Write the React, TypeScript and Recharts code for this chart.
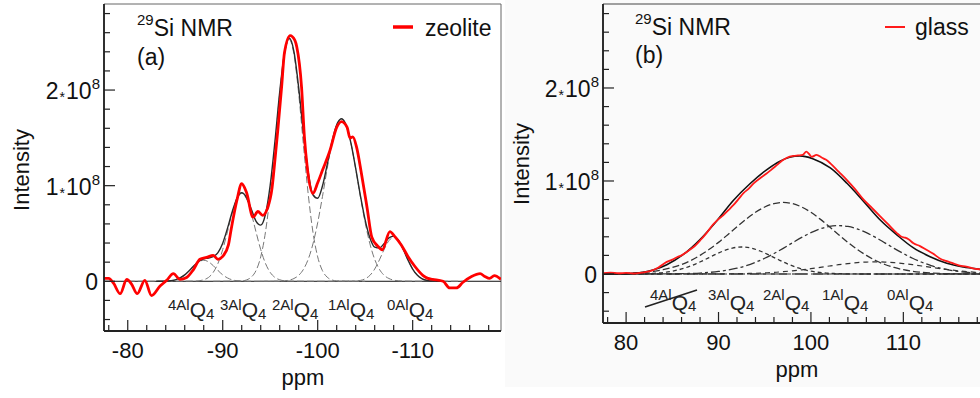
import React from "react";
import { LineChart, Line, XAxis, YAxis, ReferenceLine, ReferenceArea } from "recharts";

type Pt = [number, number];

const FONT = '"Liberation Sans", Arial, Helvetica, sans-serif';

// ---- panel (a): zeolite, ppm (negative), intensity in units of 1e8 ----
const zeoliteSpectrum: Pt[] = [
  [-77.5, 0.03], [-78.0, 0.03], [-78.5, -0.02], [-79.2, -0.13], [-79.9, 0.02], [-80.4, -0.03],
  [-81.0, -0.13], [-81.8, 0.01], [-82.5, -0.15], [-83.4, -0.05], [-84.1, 0.01], [-84.8, 0.08],
  [-85.5, 0.02], [-86.2, 0.04], [-86.9, 0.12], [-87.6, 0.23], [-88.3, 0.25], [-89.0, 0.27],
  [-89.5, 0.23], [-90.0, 0.26], [-90.6, 0.38], [-90.9, 0.55], [-91.5, 0.85], [-92.0, 1.02],
  [-92.5, 0.93], [-93.2, 0.67], [-93.7, 0.73], [-94.2, 0.69], [-94.7, 0.76], [-95.2, 0.98],
  [-95.5, 1.27], [-95.8, 1.58], [-96.2, 2.03], [-96.5, 2.39], [-97.1, 2.57], [-97.6, 2.52],
  [-97.8, 2.45], [-98.3, 2.03], [-98.6, 1.51], [-98.9, 1.19], [-99.5, 0.92], [-100.0, 1.03],
  [-100.5, 1.16], [-101.3, 1.37], [-102.0, 1.61], [-102.5, 1.67], [-103.1, 1.61], [-103.4, 1.5],
  [-103.7, 1.51], [-104.1, 1.4], [-104.6, 1.13], [-105.2, 0.77], [-105.7, 0.46], [-106.3, 0.37],
  [-106.8, 0.33], [-107.6, 0.52], [-108.1, 0.47], [-108.8, 0.38], [-109.5, 0.26], [-110.2, 0.16],
  [-111.1, 0.06], [-111.6, 0.03], [-112.1, 0.02], [-113.2, 0.0], [-113.9, -0.07], [-114.6, -0.07],
  [-115.3, -0.01], [-116.2, 0.05], [-117.1, 0.08], [-117.6, 0.05], [-118.1, 0.03], [-118.6, 0.06],
  [-119.3, 0.02],
];

const zeoliteFit: Pt[] = [
  [-83, 0], [-83.5, 0], [-84, 0.002], [-84.5, 0.006], [-85, 0.015], [-85.5, 0.035], [-86, 0.067],
  [-86.5, 0.113], [-87, 0.166], [-87.5, 0.209], [-88, 0.236], [-88.5, 0.244], [-89, 0.257],
  [-89.5, 0.3], [-90, 0.399], [-90.5, 0.553], [-91, 0.728], [-91.5, 0.869], [-92, 0.926],
  [-92.5, 0.877], [-93, 0.756], [-93.5, 0.629], [-94, 0.587], [-94.5, 0.701], [-95, 1.006],
  [-95.5, 1.464], [-96, 1.979], [-96.5, 2.383], [-97, 2.544], [-97.5, 2.402], [-98, 2.023],
  [-98.5, 1.549], [-99, 1.143], [-99.5, 0.905], [-100, 0.868], [-100.5, 0.996], [-101, 1.221],
  [-101.5, 1.458], [-102, 1.636], [-102.5, 1.7], [-103, 1.632], [-103.5, 1.445], [-104, 1.181],
  [-104.5, 0.894], [-105, 0.639], [-105.5, 0.453], [-106, 0.358], [-106.5, 0.349], [-107, 0.396],
  [-107.5, 0.454], [-108, 0.472], [-108.5, 0.43], [-109, 0.336], [-109.5, 0.224], [-110, 0.128],
  [-110.5, 0.062], [-111, 0.026], [-111.5, 0.009], [-112, 0.003], [-112.5, 0.001], [-113, 0],
];

const zeo4Al: Pt[] = [
  [-80, 0], [-83.5, 0], [-84, 0.002], [-84.5, 0.006], [-85, 0.015], [-85.5, 0.035], [-86, 0.067],
  [-86.5, 0.113], [-87, 0.164], [-87.5, 0.204], [-88, 0.22], [-88.5, 0.204], [-89, 0.164],
  [-89.5, 0.113], [-90, 0.067], [-90.5, 0.035], [-91, 0.015], [-91.5, 0.006], [-92, 0.002],
  [-92.5, 0], [-96, 0],
];
const zeo3Al: Pt[] = [
  [-84, 0], [-87, 0.002], [-87.5, 0.005], [-88, 0.016], [-88.5, 0.04], [-89, 0.093], [-89.5, 0.187],
  [-90, 0.332], [-90.5, 0.518], [-91, 0.713], [-91.5, 0.863], [-92, 0.92], [-92.5, 0.863],
  [-93, 0.713], [-93.5, 0.518], [-94, 0.332], [-94.5, 0.187], [-95, 0.093], [-95.5, 0.04],
  [-96, 0.016], [-96.5, 0.005], [-97, 0.002], [-100, 0],
];
const zeo2Al: Pt[] = [
  [-89, 0], [-92, 0.004], [-92.5, 0.014], [-93, 0.043], [-93.5, 0.111], [-94, 0.255], [-94.5, 0.514],
  [-95, 0.913], [-95.5, 1.424], [-96, 1.961], [-96.5, 2.373], [-97, 2.53], [-97.5, 2.373],
  [-98, 1.961], [-98.5, 1.424], [-99, 0.913], [-99.5, 0.514], [-100, 0.255], [-100.5, 0.111],
  [-101, 0.043], [-101.5, 0.014], [-102, 0.004], [-105, 0],
];
const zeo1Al: Pt[] = [
  [-94, 0], [-96, 0.002], [-96.5, 0.005], [-97, 0.012], [-97.5, 0.029], [-98, 0.062], [-98.5, 0.125],
  [-99, 0.23], [-99.5, 0.391], [-100, 0.613], [-100.5, 0.885], [-101, 1.178], [-101.5, 1.444],
  [-102, 1.632], [-102.5, 1.7], [-103, 1.632], [-103.5, 1.444], [-104, 1.178], [-104.5, 0.885],
  [-105, 0.613], [-105.5, 0.391], [-106, 0.23], [-106.5, 0.125], [-107, 0.062], [-107.5, 0.029],
  [-108, 0.012], [-108.5, 0.005], [-109, 0.002], [-111, 0],
];
const zeo0Al: Pt[] = [
  [-100, 0], [-103.5, 0.001], [-104, 0.003], [-104.5, 0.009], [-105, 0.026], [-105.5, 0.062],
  [-106, 0.128], [-106.5, 0.224], [-107, 0.334], [-107.5, 0.425], [-108, 0.46], [-108.5, 0.425],
  [-109, 0.334], [-109.5, 0.224], [-110, 0.128], [-110.5, 0.062], [-111, 0.026], [-111.5, 0.009],
  [-112, 0.003], [-112.5, 0.001], [-116, 0],
];

// ---- panel (b): glass, ppm (positive) ----
const glassSpectrum: Pt[] = [
  [77.5, 0.01], [78.3, 0.015], [79.2, 0.008], [80.0, 0.012], [80.8, 0.005], [81.7, 0.015],
  [82.6, 0.03], [83.5, 0.07], [84.4, 0.13], [85.0, 0.155], [85.5, 0.18], [86.0, 0.2], [86.6, 0.24],
  [87.3, 0.29], [88.0, 0.36], [88.7, 0.44], [89.4, 0.53], [90.0, 0.59], [90.5, 0.63], [91.1, 0.69],
  [91.6, 0.74], [92.2, 0.81], [92.7, 0.87], [93.3, 0.92], [93.8, 0.975], [94.5, 1.03], [95.2, 1.08],
  [95.7, 1.12], [96.3, 1.17], [96.9, 1.22], [97.4, 1.25], [98.1, 1.27], [98.6, 1.275], [99.1, 1.28],
  [99.5, 1.315], [99.8, 1.29], [100.1, 1.26], [100.6, 1.28], [101.2, 1.25], [101.6, 1.23],
  [102.1, 1.19], [103.0, 1.1], [103.9, 1.01], [104.8, 0.91], [105.7, 0.8], [106.6, 0.71],
  [107.5, 0.62], [108.4, 0.53], [109.3, 0.44], [109.8, 0.4], [110.2, 0.39], [110.6, 0.37],
  [111.1, 0.33], [111.8, 0.3], [112.5, 0.26], [113.2, 0.22], [113.9, 0.17], [114.6, 0.14],
  [115.4, 0.115], [116.1, 0.09], [116.8, 0.08], [117.5, 0.06], [118.3, 0.05], [119.2, 0.045],
  [120.1, 0.035], [121, 0.03],
];

const glassFit: Pt[] = [
  [77.5, 0], [79, 0.002], [80.5, 0.006], [82, 0.02], [83, 0.045], [84.4, 0.1], [86.2, 0.21],
  [88, 0.37], [89.8, 0.57], [91.6, 0.79], [93.4, 0.97], [95.2, 1.12], [96.6, 1.21], [97.7, 1.255],
  [98.8, 1.27], [100.2, 1.24], [102.1, 1.14], [103.9, 0.975], [105.7, 0.78], [107.5, 0.58],
  [109.3, 0.42], [111.1, 0.28], [112.9, 0.186], [114.7, 0.115], [116.5, 0.075], [118.3, 0.05],
  [120, 0.03], [121, 0.025],
];

const glass4Al: Pt[] = [[77.5, 0], [121, 0]];
const glass3Al: Pt[] = [
  [77.5, 0], [79.5, 0], [80.5, 0.001], [81.5, 0.002], [82.5, 0.005], [83.5, 0.011], [84.5, 0.022],
  [85.5, 0.041], [86.5, 0.069], [87.5, 0.107], [88.5, 0.153], [89.5, 0.202], [90.5, 0.247],
  [91.5, 0.279], [92.5, 0.29], [93.5, 0.279], [94.5, 0.247], [95.5, 0.202], [96.5, 0.153],
  [97.5, 0.107], [98.5, 0.069], [99.5, 0.041], [100.5, 0.022], [101.5, 0.011], [102.5, 0.005],
  [103.5, 0.002], [104.5, 0.001], [105.5, 0], [121, 0],
];
const glass2Al: Pt[] = [
  [77.5, 0.001], [78, 0.002], [79, 0.003], [80, 0.006], [81, 0.011], [82, 0.018], [83, 0.029],
  [84, 0.046], [85, 0.07], [86, 0.102], [87, 0.145], [88, 0.2], [89, 0.265], [90, 0.34], [91, 0.423],
  [92, 0.508], [93, 0.59], [94, 0.663], [95, 0.72], [96, 0.757], [97, 0.77], [98, 0.757], [99, 0.72],
  [100, 0.663], [101, 0.59], [102, 0.508], [103, 0.423], [104, 0.34], [105, 0.265], [106, 0.2],
  [107, 0.145], [108, 0.102], [109, 0.07], [110, 0.046], [111, 0.029], [112, 0.018], [113, 0.011],
  [114, 0.006], [115, 0.003], [116, 0.002], [117, 0.001], [118, 0], [121, 0],
];
const glass1Al: Pt[] = [
  [77.5, 0], [82, 0], [84, 0.001], [85, 0.002], [86, 0.003], [87, 0.006], [88, 0.01], [89, 0.017],
  [90, 0.027], [91, 0.042], [92, 0.062], [93, 0.09], [94, 0.126], [95, 0.169], [96, 0.22], [97, 0.276],
  [98, 0.335], [99, 0.393], [100, 0.444], [101, 0.485], [102, 0.511], [103, 0.52], [104, 0.511],
  [105, 0.485], [106, 0.444], [107, 0.393], [108, 0.335], [109, 0.276], [110, 0.22], [111, 0.169],
  [112, 0.126], [113, 0.09], [114, 0.062], [115, 0.042], [116, 0.027], [117, 0.017], [118, 0.01],
  [119, 0.006], [120, 0.003], [121, 0.002],
];
const glass0Al: Pt[] = [
  [77.5, 0], [90, 0.001], [91, 0.002], [92, 0.003], [93, 0.005], [94, 0.008], [95, 0.012], [96, 0.017],
  [97, 0.025], [98, 0.034], [99, 0.045], [100, 0.057], [101, 0.071], [102, 0.086], [103, 0.1],
  [104, 0.112], [105, 0.122], [106, 0.128], [107, 0.13], [108, 0.128], [109, 0.122], [110, 0.112],
  [111, 0.1], [112, 0.086], [113, 0.071], [114, 0.057], [115, 0.045], [116, 0.034], [117, 0.025],
  [118, 0.017], [119, 0.012], [120, 0.008], [121, 0.006],
];

// ticks
const xTicksA = [-78, -80, -82, -84, -86, -88, -90, -92, -94, -96, -98, -100, -102, -104, -106, -108, -110, -112, -114, -116, -118];
const xTicksB = [78, 80, 82, 84, 86, 88, 90, 92, 94, 96, 98, 100, 102, 104, 106, 108, 110, 112, 114, 116, 118];
const yTicks = [-0.4, -0.2, 0, 0.2, 0.4, 0.6, 0.8, 1, 1.2, 1.4, 1.6, 1.8, 2, 2.2, 2.4, 2.6, 2.8];
const q4Labels = ["4Al", "3Al", "2Al", "1Al", "0Al"];

const rows = (pts: Pt[]) => pts.map(([x, y]) => ({ x, y }));

const XTick = (props: any) => {
  const { x, y, payload } = props;
  const v = payload.value as number;
  const major = Math.abs(v % 10) < 1e-6;
  return (
    <g>
      <line x1={x} x2={x} y1={y} y2={y - (major ? 11 : 6)} stroke="#222" strokeWidth={1.2} />
      {major && (
        <text x={x} y={y + 27} textAnchor="middle" fontSize={22} fill="#111" fontFamily={FONT}>
          {v}
        </text>
      )}
    </g>
  );
};

const YTick = (props: any) => {
  const { x, y, payload } = props;
  const v = payload.value as number;
  const major = Math.abs(v - Math.round(v)) < 1e-6;
  return (
    <g>
      <line x1={x} x2={x + (major ? 11 : 6)} y1={y} y2={y} stroke="#222" strokeWidth={1.2} />
      {major && v === 0 && (
        <text x={x - 6} y={y + 9} textAnchor="end" fontSize={23} fill="#111" fontFamily={FONT}>0</text>
      )}
      {major && v !== 0 && (
        <text x={x - 4} y={y + 9} textAnchor="end" fontSize={23} fill="#111" fontFamily={FONT}>
          {Math.round(v)}
          <tspan fontSize={14} dx={1} dy={3}>*</tspan>
          <tspan dx={1} dy={-3}>10</tspan>
          <tspan fontSize={15} dy={-10}>8</tspan>
        </text>
      )}
    </g>
  );
};

const Q4 = ({ x, y, sup, qDy, subDy }: { x: number; y: number; sup: string; qDy: number; subDy: number }) => (
  <text x={x} y={y} fill="#222" fontFamily={FONT}>
    <tspan fontSize={15}>{sup}</tspan>
    <tspan fontSize={21} dy={qDy}>Q</tspan>
    <tspan fontSize={15} dy={subDy}>4</tspan>
  </text>
);

const dashGrey = "#777";
const dashDark = "#333";

export default function App() {
  const domA: [number, number] = [-119.3, -77.5];
  const domB: [number, number] = [77.5, 121];
  const domY: [number, number] = [-0.52, 2.9];
  const domYB: [number, number] = [-0.527, 2.903];
  return (
    <div style={{ position: "absolute", left: 0, top: 0, width: 980, height: 398, overflow: "hidden", background: "#fff", fontFamily: FONT }}>
      <div style={{ position: "absolute", left: 505, top: 0, width: 475, height: 387, background: "#fafafa" }} />

      {/* panel (a) */}
      <div style={{ position: "absolute", left: 0, top: 0 }}>
        <LineChart width={510} height={398} margin={{ top: 4, right: 9, bottom: 66, left: 103 }}>
          <ReferenceArea x1={domA[0]} x2={domA[1]} y1={domY[0]} y2={domY[1]} fill="none" stroke="#666" strokeWidth={1} />
          <XAxis type="number" dataKey="x" domain={domA} reversed allowDataOverflow ticks={xTicksA} interval={0}
            height={1} tickSize={0} tickMargin={0} tickLine={false} tick={XTick} axisLine={{ stroke: "#222", strokeWidth: 1.8 }} />
          <YAxis type="number" domain={domY} allowDataOverflow ticks={yTicks} interval={0}
            width={1} tickSize={0} tickMargin={0} tickLine={false} tick={YTick} axisLine={{ stroke: "#222", strokeWidth: 1.8 }} />
          <ReferenceLine y={0} stroke="#111" strokeWidth={1} />
          <Line data={rows(zeo4Al)} dataKey="y" type="monotone" stroke={dashGrey} strokeWidth={1} strokeDasharray="7 3" dot={false} activeDot={false} isAnimationActive={false} />
          <Line data={rows(zeo3Al)} dataKey="y" type="monotone" stroke={dashGrey} strokeWidth={1} strokeDasharray="7 3" dot={false} activeDot={false} isAnimationActive={false} />
          <Line data={rows(zeo2Al)} dataKey="y" type="monotone" stroke={dashGrey} strokeWidth={1} strokeDasharray="7 3" dot={false} activeDot={false} isAnimationActive={false} />
          <Line data={rows(zeo1Al)} dataKey="y" type="monotone" stroke={dashGrey} strokeWidth={1} strokeDasharray="7 3" dot={false} activeDot={false} isAnimationActive={false} />
          <Line data={rows(zeo0Al)} dataKey="y" type="monotone" stroke={dashGrey} strokeWidth={1} strokeDasharray="7 3" dot={false} activeDot={false} isAnimationActive={false} />
          <Line data={rows(zeoliteFit)} dataKey="y" type="monotone" stroke="#2a2a2a" strokeWidth={1.4} dot={false} activeDot={false} isAnimationActive={false} />
          <Line data={rows(zeoliteSpectrum)} dataKey="y" type="monotone" stroke="#ff0000" strokeWidth={2.8} dot={false} activeDot={false} isAnimationActive={false} />
        </LineChart>
      </div>

      {/* panel (b) */}
      <div style={{ position: "absolute", left: 500, top: 0 }}>
        <LineChart width={520} height={398} margin={{ top: 4, right: 15, bottom: 74, left: 102 }}>
          <ReferenceArea x1={domB[0]} x2={domB[1]} y1={domYB[0]} y2={domYB[1]} fill="none" stroke="#444" strokeWidth={1} />
          <XAxis type="number" dataKey="x" domain={domB} allowDataOverflow ticks={xTicksB} interval={0}
            height={1} tickSize={0} tickMargin={0} tickLine={false} tick={XTick} axisLine={{ stroke: "#222", strokeWidth: 1.8 }} />
          <YAxis type="number" domain={domYB} allowDataOverflow ticks={yTicks} interval={0}
            width={1} tickSize={0} tickMargin={0} tickLine={false} tick={YTick} axisLine={{ stroke: "#222", strokeWidth: 1.8 }} />
          <ReferenceLine y={0} stroke="#111" strokeWidth={1} strokeDasharray="16 5" />
          <Line data={rows(glass4Al)} dataKey="y" type="monotone" stroke={dashDark} strokeWidth={1.2} strokeDasharray="12 4" dot={false} activeDot={false} isAnimationActive={false} />
          <Line data={rows(glass3Al)} dataKey="y" type="monotone" stroke={dashDark} strokeWidth={1.3} strokeDasharray="4 3" dot={false} activeDot={false} isAnimationActive={false} />
          <Line data={rows(glass2Al)} dataKey="y" type="monotone" stroke={dashDark} strokeWidth={1.3} strokeDasharray="7 3" dot={false} activeDot={false} isAnimationActive={false} />
          <Line data={rows(glass1Al)} dataKey="y" type="monotone" stroke={dashDark} strokeWidth={1.3} strokeDasharray="9 3 3 3" dot={false} activeDot={false} isAnimationActive={false} />
          <Line data={rows(glass0Al)} dataKey="y" type="monotone" stroke={dashDark} strokeWidth={1.2} strokeDasharray="5 4" dot={false} activeDot={false} isAnimationActive={false} />
          <Line data={rows(glassFit)} dataKey="y" type="monotone" stroke="#111" strokeWidth={1.6} dot={false} activeDot={false} isAnimationActive={false} />
          <Line data={rows(glassSpectrum)} dataKey="y" type="monotone" stroke="#ff1a1a" strokeWidth={1.8} dot={false} activeDot={false} isAnimationActive={false} />
        </LineChart>
      </div>

      {/* annotations */}
      <svg width={980} height={398} style={{ position: "absolute", left: 0, top: 0, pointerEvents: "none" }}>
        <g fontFamily={FONT} fill="#111">
          <text x={137} y={36} fontSize={23}>
            <tspan fontSize={15} dy={-11}>29</tspan>
            <tspan dy={11}>Si NMR</tspan>
          </text>
          <text x={137} y={65} fontSize={23}>(a)</text>
          <line x1={393} x2={413} y1={27} y2={27} stroke="#ff0000" strokeWidth={3.5} />
          <text x={425} y={36} fontSize={23}>zeolite</text>
          <text transform="translate(29,170) rotate(-90)" textAnchor="middle" fontSize={22}>Intensity</text>
          <text x={303} y={385} textAnchor="middle" fontSize={22}>ppm</text>

          <text x={635} y={35} fontSize={23}>
            <tspan fontSize={15} dy={-11}>29</tspan>
            <tspan dy={11}>Si NMR</tspan>
          </text>
          <text x={635} y={63} fontSize={23}>(b)</text>
          <line x1={885} x2={905} y1={27} y2={27} stroke="#ff1a1a" strokeWidth={2} />
          <text x={915} y={35} fontSize={23}>glass</text>
          <text transform="translate(529,164) rotate(-90)" textAnchor="middle" fontSize={22}>Intensity</text>
          <text x={797} y={377} textAnchor="middle" fontSize={22}>ppm</text>
        </g>
        {[168, 220, 272, 328, 387].map((x, i) => (
          <Q4 key={"a" + i} x={x} y={310} sup={q4Labels[i]} qDy={6.5} subDy={2} />
        ))}
        {[650, 708, 763, 822, 887].map((x, i) => (
          <Q4 key={"b" + i} x={x} y={300} sup={q4Labels[i]} qDy={10} subDy={1} />
        ))}
        <line x1={645} y1={307} x2={697} y2={290} stroke="#222" strokeWidth={1.6} />
      </svg>
    </div>
  );
}
